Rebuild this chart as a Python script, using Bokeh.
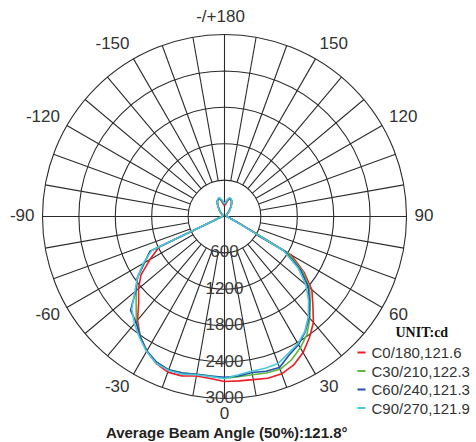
import numpy as np
from bokeh.plotting import figure
from bokeh.models import Range1d
from bokeh.embed import file_html
from bokeh.resources import INLINE
from bokeh.core.properties import value

# ---------------- data ----------------
angles = list(range(-180, 181, 5))  # degrees, 0 = straight down, + = right

c0_180 = [180, 200, 250, 300, 305, 280, 230, 165, 115, 80, 50, 35, 35, 35, 35, 35, 35, 35,
          35, 50, 65, 100, 165, 1190, 1420, 1680, 1850, 2000, 2230, 2420, 2560, 2670, 2730, 2720, 2670, 2680,
          2720,
          2720, 2730, 2760, 2760, 2700, 2590, 2440, 2280, 2060, 1880, 1600, 1270, 280, 130, 80, 65, 50, 35,
          35, 35, 35, 35, 35, 35, 35, 50, 80, 115, 165, 230, 280, 305, 300, 250, 200, 180]

c30_210 = [200, 230, 270, 310, 300, 275, 225, 170, 120, 85, 55, 35, 35, 35, 35, 35, 35, 35,
           35, 50, 65, 100, 165, 1350, 1520, 1750, 1900, 2060, 2260, 2420, 2560, 2650, 2690, 2670, 2640, 2640,
           2670,
           2650, 2650, 2670, 2680, 2610, 2500, 2370, 2190, 2000, 1830, 1570, 1220, 260, 130, 80, 65, 50, 35,
           35, 35, 35, 35, 35, 35, 35, 55, 85, 120, 170, 225, 275, 300, 310, 270, 230, 200]

c60_240 = [205, 235, 275, 315, 305, 280, 230, 175, 125, 85, 55, 35, 35, 35, 35, 35, 35, 35,
           35, 50, 65, 100, 165, 1350, 1530, 1750, 1910, 2190, 2270, 2420, 2560, 2650, 2690, 2670, 2640, 2640,
           2650,
           2640, 2610, 2640, 2650, 2520, 2440, 2320, 2170, 1980, 1800, 1530, 1150, 250, 130, 80, 65, 50, 35,
           35, 35, 35, 35, 35, 35, 35, 55, 85, 125, 175, 230, 280, 305, 315, 275, 235, 205]

c90_270 = [210, 240, 280, 320, 315, 285, 235, 180, 130, 90, 55, 35, 35, 35, 35, 35, 35, 35,
           35, 50, 65, 100, 165, 1320, 1550, 1750, 1930, 2160, 2310, 2440, 2570, 2670, 2700, 2690, 2650, 2650,
           2670,
           2620, 2590, 2590, 2580, 2490, 2420, 2310, 2150, 1960, 1750, 1480, 1120, 230, 130, 80, 65, 50, 35,
           35, 35, 35, 35, 35, 35, 35, 55, 90, 130, 180, 235, 285, 315, 320, 280, 240, 210]

series_names = ["C0/180,121.6", "C30/210,122.3", "C60/240,121.3", "C90/270,121.9"]
series_values = [c0_180, c30_210, c60_240, c90_270]
series_colors = ["#ee1c25", "#62b540", "#2152a8", "#4cc8dc"]

ring_values = [600, 1200, 1800, 2400, 3000]
ring_labels = ["600", "1200", "1800", "2400", "3000"]

angle_ticks = [180, -150, 150, -120, 120, -90, 90, -60, 60, -30, 30, 0]
angle_tick_labels = ["-/+180", "-150", "150", "-120", "120", "-90", "90", "-60", "60", "-30", "30", "0"]

unit_text = "UNIT:cd"
title_text = "Average Beam Angle (50%):121.8\u00b0"

# ---------------- layout ----------------
W, H = 476, 442
CX, CY = 224, 216                  # pixel position of the pole
R_OUT = 182.0                      # pixel radius of the outer ring
scale = R_OUT / max(ring_values)   # px per cd

def polar(vals, angs):
    t = np.radians(np.asarray(angs, dtype=float))
    r = np.asarray(vals, dtype=float) * scale
    return r * np.sin(t), -r * np.cos(t)

p = figure(width=W, height=H, output_backend="svg", toolbar_location=None,
           x_range=Range1d(-CX, W - CX), y_range=Range1d(CY - H, CY),
           x_axis_type=None, y_axis_type=None, min_border=0,
           background_fill_color="white", border_fill_color="white")
p.outline_line_color = None
p.grid.visible = False

GRID = "#2b2b2b"

# rings
p.circle(x=[0] * len(ring_values), y=[0] * len(ring_values),
         radius=[v * scale for v in ring_values],
         fill_color=None, line_color=GRID, line_width=1.1)

# spokes every 10 deg
xs, ys = [], []
for a in range(-180, 180, 10):
    if a in (0, 90, -90, -180):
        r0 = 0.0
    else:
        r0 = ring_values[0] * scale
    t = np.radians(a)
    xs.append([r0 * np.sin(t), R_OUT * np.sin(t)])
    ys.append([-r0 * np.cos(t), -R_OUT * np.cos(t)])
p.multi_line(xs=xs, ys=ys, line_color=GRID, line_width=1.1)

# ring labels
p.text(x=[0] * len(ring_values), y=[-v * scale + 1.5 for v in ring_values], text=ring_labels,
       text_font=value("Liberation Sans"), text_font_size="17px", text_color="#3a3a3a",
       text_align="center", text_baseline="alphabetic")

# angle labels
for a, lab in zip(angle_ticks, angle_tick_labels):
    t = np.radians(a)
    lx = 190 * np.sin(t)
    ly = -198 * np.cos(t) + 2
    if a == 180:
        al, lx = "center", lx - 4
    elif a == 0:
        al = "center"
    elif a > 0:
        al = "left"
    else:
        al = "right"
    p.text(x=[lx], y=[ly], text=[lab], text_font=value("Liberation Sans"),
           text_font_size="17px", text_color="#333333", text_align=al, text_baseline="middle")

# curves
for vals, col in zip(series_values, series_colors):
    x, y = polar(vals, angles)
    p.line(x=x, y=y, line_color=col, line_width=1.6)

# legend
p.text(x=[171], y=[-116], text=[unit_text], text_font=value("Liberation Serif"),
       text_font_style="bold", text_font_size="14px", text_color="#111111",
       text_align="left", text_baseline="middle")
for i, (name, col) in enumerate(zip(series_names, series_colors)):
    yy = -136 - i * 18.5
    p.line(x=[133, 141], y=[yy, yy], line_color=col, line_width=2)
    p.text(x=[147], y=[yy], text=[name], text_font=value("Liberation Sans"),
           text_font_size="15px", text_color="#333333", text_align="left", text_baseline="middle")

# title
p.text(x=[2.5], y=[-216], text=[title_text], text_font=value("Liberation Sans"),
       text_font_style="bold", text_font_size="15px", text_color="#222222",
       text_align="center", text_baseline="middle")

open("out.html", "w").write(file_html(p, INLINE))
